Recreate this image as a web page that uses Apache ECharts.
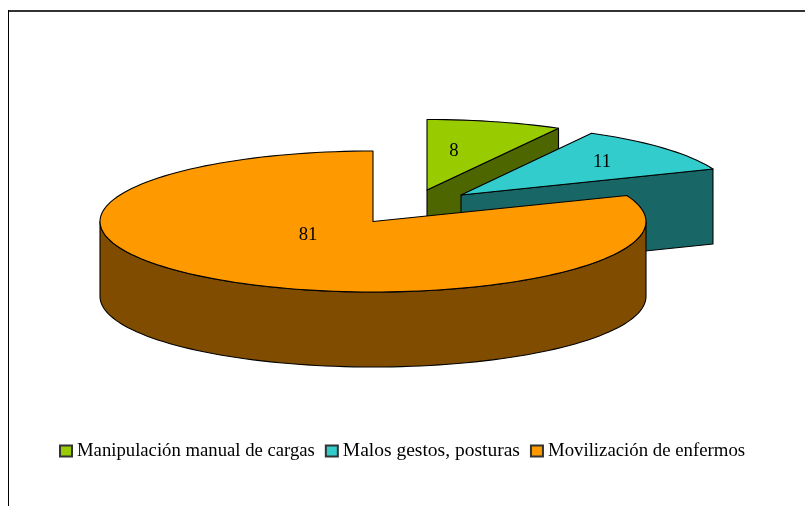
<!DOCTYPE html>
<html>
<head>
<meta charset="utf-8">
<style>html,body{margin:0;padding:0;background:#fff}#c{width:805px;height:506px}</style>
<script src="https://cdn.jsdelivr.net/npm/echarts@6/dist/echarts.min.js"></script>
</head>
<body>
<div id="c"></div>
<script>
// Data
const categories = ['Manipulación manual de cargas', 'Malos gestos, posturas', 'Movilización de enfermos'];
const values = [8, 11, 81];

// Styles and layout
const topColors = ['#99CC00', '#33CCCC', '#FF9900'];
const sideColors = ['#4D6600', '#196666', '#804D00'];
const centers = [[427, 190], [461, 195], [373, 221.5]];
const radiiX = [273, 271, 273];
const labelOffsets = [[27, -39], [141, -33], [-65, 13.5]];
const legendFontSizes = [18.7, 19.5, 18.8];
const RY = 70.5, DEPTH = 75;
const FONT = 'Liberation Serif';

const total = values.reduce((a, b) => a + b, 0);
const toRad = d => d * Math.PI / 180;
const startAngles = [];
values.reduce((acc, v, i) => { startAngles[i] = acc; return acc + v / total * 360; }, 0);

function pt(c, rx, deg, dz) {
  return [c[0] + rx * Math.sin(toRad(deg)), c[1] - RY * Math.cos(toRad(deg)) + (dz || 0)];
}
function arc(c, rx, a0, a1, dz) {
  const n = Math.max(2, Math.ceil((a1 - a0) / 2));
  const out = [];
  for (let i = 0; i <= n; i++) out.push(pt(c, rx, a0 + (a1 - a0) * i / n, dz));
  return out;
}
function poly(points, fill) {
  return {
    type: 'polygon',
    shape: { points },
    style: { fill, stroke: '#000', lineWidth: 1.1, lineJoin: 'round' }
  };
}

function renderSlice(i) {
  const a0 = startAngles[i], a1 = a0 + values[i] / total * 360;
  const c = centers[i], rx = radiiX[i];
  const children = [];
  const side = sideColors[i];
  // Cut faces turned towards the viewer
  const s1 = Math.sin(toRad(a1)), s0 = Math.sin(toRad(a0));
  if (s1 > 1e-6) {
    const p = pt(c, rx, a1);
    children.push(poly([c, p, [p[0], p[1] + DEPTH], [c[0], c[1] + DEPTH]], side));
  }
  if (s0 < -1e-6) {
    const p = pt(c, rx, a0);
    children.push(poly([c, p, [p[0], p[1] + DEPTH], [c[0], c[1] + DEPTH]], side));
  }
  // Outer rim, front half only
  const r0 = Math.max(a0, 90), r1 = Math.min(a1, 270);
  if (r1 > r0) {
    const upper = arc(c, rx, r0, r1, 0);
    const lower = arc(c, rx, r0, r1, DEPTH).reverse();
    children.push(poly(upper.concat(lower), side));
  }
  // Top face
  children.push(poly([c].concat(arc(c, rx, a0, a1, 0)), topColors[i]));
  // Value label
  children.push({
    type: 'text',
    style: {
      text: String(values[i]),
      x: c[0] + labelOffsets[i][0],
      y: c[1] + labelOffsets[i][1],
      fill: '#000',
      font: '18.7px "' + FONT + '"',
      align: 'center',
      verticalAlign: 'middle'
    }
  });
  return { type: 'group', children };
}

const chart = echarts.init(document.getElementById('c'), null, { renderer: 'canvas' });
chart.setOption({
  animation: false,
  backgroundColor: '#fff',
  tooltip: { show: false },
  legend: {
    left: 59,
    top: 441,
    padding: 0,
    itemWidth: 12,
    itemHeight: 11,
    itemGap: 10,
    selectedMode: false,
    icon: 'rect',
    data: categories.map((name, i) => ({
      name,
      textStyle: { fontFamily: FONT, fontSize: legendFontSizes[i], color: '#000' }
    }))
  },
  graphic: [
    { type: 'line', shape: { x1: 8, y1: 11, x2: 805, y2: 11 }, style: { stroke: '#333', lineWidth: 2 } },
    { type: 'line', shape: { x1: 8.5, y1: 10, x2: 8.5, y2: 506 }, style: { stroke: '#000', lineWidth: 1 } }
  ],
  series: categories.map((name, i) => ({
    type: 'custom',
    name,
    coordinateSystem: 'none',
    silent: true,
    itemStyle: { color: topColors[i], borderColor: '#333', borderWidth: 1 },
    data: [values[i]],
    renderItem: () => renderSlice(i)
  }))
});
</script>
</body>
</html>
